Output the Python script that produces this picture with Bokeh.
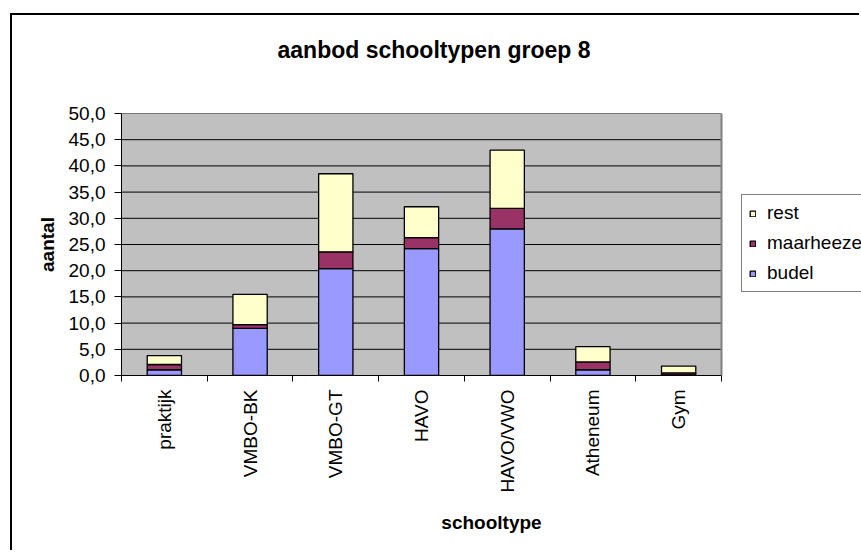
import math
from bokeh.plotting import figure
from bokeh.models import (Range1d, FixedTicker, LinearAxis, CustomJSTickFormatter,
                          Legend, LegendItem, ColumnDataSource, BoxAnnotation, Span)
from bokeh.embed import file_html
from bokeh.resources import INLINE

categories = ["praktijk", "VMBO-BK", "VMBO-GT", "HAVO", "HAVO/VWO", "Atheneum", "Gym"]
budel = [1.1, 9.0, 20.4, 24.2, 28.0, 1.1, 0.1]
maarheeze = [1.0, 0.7, 3.2, 2.1, 3.9, 1.5, 0.4]
rest = [1.7, 5.8, 14.9, 5.9, 11.1, 2.9, 1.3]
series = ["budel", "maarheeze", "rest"]
colors = ["#9999FF", "#993366", "#FFFFCC"]
y_ticks = [0, 5, 10, 15, 20, 25, 30, 35, 40, 45, 50]

FONT = "Liberation Sans"

n = len(categories)
centers = [i + 0.5 for i in range(n)]
edges = list(range(n + 1))

# layout: the frame runs to the right edge of the canvas so the legend beside the
# grey plot area is not clipped; the grey plot area itself spans categories 0..n
W, H = 849, 537
LEFT, TOP, BOTTOM = 109, 98, 177
PLOT_AREA_PX = 600
frame_px = W - LEFT
x_end = n * frame_px / PLOT_AREA_PX

source = ColumnDataSource(data=dict(x=centers, budel=budel, maarheeze=maarheeze, rest=rest))
grid_src = ColumnDataSource(data=dict(y=y_ticks, x0=[0] * len(y_ticks), x1=[n] * len(y_ticks)))

p = figure(x_range=Range1d(0, x_end), y_range=Range1d(0, 50),
           width=W, height=H, output_backend="svg", toolbar_location=None,
           x_axis_location=None, y_axis_location=None,
           min_border_left=LEFT, min_border_top=TOP, min_border_right=0, min_border_bottom=BOTTOM)
p.styles = {"margin-left": "10px", "margin-top": "13px",
            "border-left": "2px solid black", "border-top": "2px solid black"}

p.background_fill_color = "white"
p.border_fill_color = "white"
p.outline_line_color = None
p.xgrid.grid_line_color = None
p.ygrid.grid_line_color = None

# grey plot area and its right border
p.add_layout(BoxAnnotation(left=0, right=n, fill_color="#C0C0C0", fill_alpha=1,
                           line_color=None, level="underlay"))
p.add_layout(Span(location=n, dimension="height", line_color="#808080", line_width=2))


def spacer(size, tick):
    """An invisible axis used only to reserve space in a side panel."""
    ax = LinearAxis(ticker=FixedTicker(ticks=[tick]),
                    formatter=CustomJSTickFormatter(code="return '';"))
    ax.axis_line_color = None
    ax.major_tick_line_color = None
    ax.minor_tick_line_color = None
    ax.major_tick_in = 0
    ax.major_tick_out = size
    ax.major_label_standoff = 0
    ax.major_label_text_font_size = "1px"
    return ax


# title
p.title.text = "aanbod schooltypen groep 8"
p.title.text_font = FONT
p.title.text_font_size = "23px"
p.title.text_font_style = "bold"
p.title.text_color = "black"
p.title.align = "left"
p.title.offset = 156
p.title.standoff = 0
p.add_layout(spacer(51, 1), "above")

# y axis
yaxis = LinearAxis(ticker=FixedTicker(ticks=y_ticks),
                   formatter=CustomJSTickFormatter(code="return tick.toFixed(1).replace('.', ',');"))
yaxis.major_tick_out = 7
yaxis.major_tick_in = 0
yaxis.minor_tick_line_color = None
yaxis.major_tick_line_color = "black"
yaxis.axis_line_color = "black"
yaxis.major_label_text_font = FONT
yaxis.major_label_text_font_size = "19px"
yaxis.major_label_text_color = "black"
yaxis.major_label_standoff = 9
yaxis.axis_label = "aantal"
yaxis.axis_label_text_font = FONT
yaxis.axis_label_text_font_size = "19px"
yaxis.axis_label_text_font_style = "bold"
yaxis.axis_label_text_color = "black"
yaxis.axis_label_standoff = 8
p.add_layout(yaxis, "left")

# x tick axis at category boundaries
tick_axis = LinearAxis(ticker=FixedTicker(ticks=edges), bounds=(0, n),
                       formatter=CustomJSTickFormatter(code="return '';"))
tick_axis.major_tick_out = 6
tick_axis.major_tick_in = 0
tick_axis.minor_tick_line_color = None
tick_axis.axis_line_color = "black"
tick_axis.major_tick_line_color = "black"
tick_axis.major_label_standoff = 0
tick_axis.major_label_text_font_size = "1px"
p.add_layout(tick_axis, "below")

# category label axis
xaxis = LinearAxis(ticker=FixedTicker(ticks=centers), bounds=(0, n),
                   major_label_overrides={c: cat for c, cat in zip(centers, categories)})
xaxis.axis_line_color = None
xaxis.major_tick_line_color = None
xaxis.minor_tick_line_color = None
xaxis.major_label_orientation = math.pi / 2
xaxis.major_label_text_font = FONT
xaxis.major_label_text_font_size = "19px"
xaxis.major_label_text_color = "black"
xaxis.major_label_standoff = 2
xaxis.axis_label = "schooltype"
xaxis.axis_label_text_font = FONT
xaxis.axis_label_text_font_size = "19px"
xaxis.axis_label_text_font_style = "bold"
xaxis.axis_label_text_color = "black"
xaxis.axis_label_standoff = 16
p.add_layout(xaxis, "below")

# horizontal grid lines across the grey plot area only
p.segment(x0="x0", x1="x1", y0="y", y1="y", line_color="black", line_width=1, source=grid_src)

renderers = p.vbar_stack(series, x="x", width=0.4, color=colors, line_color="black",
                         line_width=1.3, source=source)

legend = Legend(items=[LegendItem(label=s, renderers=[r]) for s, r in reversed(list(zip(series, renderers)))],
                location=(620, 83))
legend.border_line_color = "black"
legend.border_line_width = 1
legend.background_fill_color = "white"
legend.background_fill_alpha = 1
legend.label_text_font = FONT
legend.label_text_font_size = "19px"
legend.label_text_color = "black"
legend.glyph_width = 7
legend.glyph_height = 7
legend.label_height = 22
legend.label_standoff = 11
legend.spacing = 8
legend.padding = 7
legend.margin = 0
p.add_layout(legend, "center")

open("out.html", "w").write(file_html(p, INLINE))
